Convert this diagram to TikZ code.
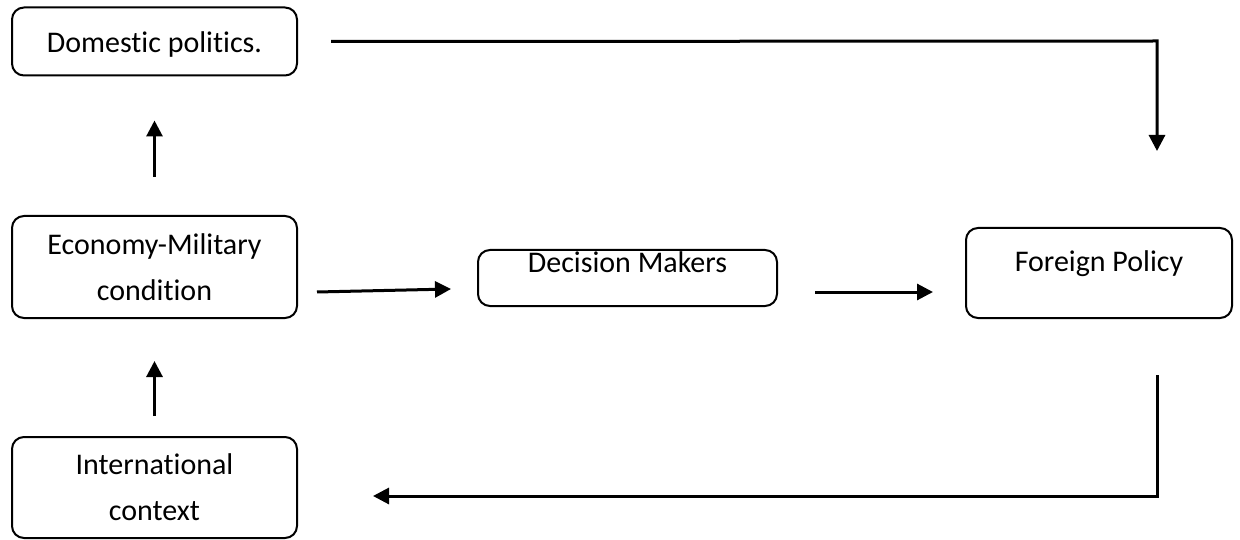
\documentclass[tikz,border=0pt]{standalone}
\usepackage{fontspec}
\setmainfont{Carlito}[Ligatures={NoCommon}]
\usetikzlibrary{arrows.meta,calc}
\begin{document}
\begin{tikzpicture}[x=1pt,y=-1pt,
  box/.style={draw,line width=2pt,rounded corners=12pt,inner sep=0pt,align=center,
    font=\fontsize{30}{46}\selectfont},
  arr/.style={line width=3pt,-{Triangle[length=16pt,width=16pt]}}]
\useasboundingbox (0,0) rectangle (1240,540);
\node[box,minimum width=285pt,minimum height=68pt,text height=28pt,text depth=6pt] (dom) at (154.5,41.5) {Domestic politics.};
\node[box,minimum width=285pt,minimum height=102pt] (eco) at (154.5,267) {Economy-Military\\condition};
\node[box,minimum width=285pt,minimum height=101pt] (int) at (154.5,487.5) {International\\context};
\node[box,minimum width=299pt,minimum height=56pt,text height=22pt,text depth=33pt] (dec) at (627.5,278) {Decision Makers};
\node[box,minimum width=266pt,minimum height=90pt,text height=22pt,text depth=25pt] (for) at (1099,273) {Foreign Policy};
\coordinate (c1) at (1157,41);
\coordinate (e1) at (1157,151);
\coordinate (s2) at (1157,375);
\coordinate (c2) at (1157,496);
\draw[arr] ($(eco.north)+(0,-38)$) -- ($(dom.south)+(0,44)$);
\draw[arr] ($(int.north)+(0,-20)$) -- ($(eco.south)+(0,42)$);
\draw[arr] ($(eco.east)+(19,25)$) -- ($(dec.west)+(-26,11)$);
\draw[arr] ($(dec.east)+(37,14)$) -- ($(for.west)+(-32,19)$);
\draw[arr] ($(dom.east)+(33,0)$) -- (c1) -- (e1);
\draw[arr] (s2) -- (c2) -- ($(int.east)+(75,8.5)$);
\end{tikzpicture}
\end{document}
